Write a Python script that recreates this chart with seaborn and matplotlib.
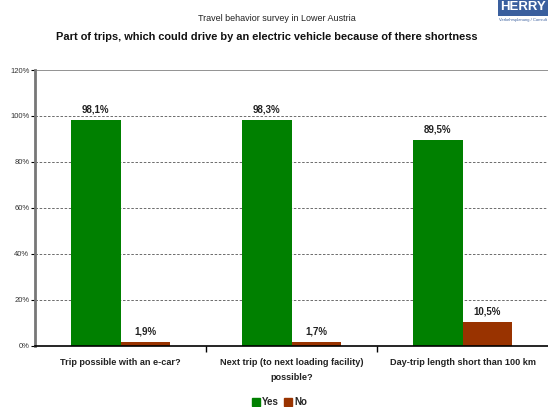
import matplotlib
matplotlib.use("Agg")
import matplotlib.pyplot as plt
import seaborn as sns
import pandas as pd
from matplotlib.ticker import MultipleLocator, PercentFormatter, FixedLocator

categories = [
    "Trip possible with an e-car?",
    "Next trip (to next loading facility)\npossible?",
    "Day-trip length short than 100 km",
]
yes_values = [98.1, 98.3, 89.5]
no_values = [1.9, 1.7, 10.5]
series = ["Yes", "No"]
colors = ["#008000", "#993300"]

df = pd.DataFrame({
    "category": categories * 2,
    "answer": ["Yes"] * 3 + ["No"] * 3,
    "share": yes_values + no_values,
})

sns.set_style("white")
plt.rcParams["font.family"] = ["Liberation Sans", "DejaVu Sans"]

fig = plt.figure(figsize=(5.48, 4.07), dpi=100)
ax = fig.add_axes([0.0639, 0.150, 0.9361, 0.678])

sns.barplot(data=df, x="category", y="share", hue="answer", hue_order=series,
            palette=colors, width=0.58, saturation=1, linewidth=0,
            ax=ax, legend=False)

ax.set_ylim(0, 120)
ax.set_xlim(-0.5, 2.5)
ax.yaxis.set_major_locator(MultipleLocator(20))
ax.yaxis.set_major_formatter(PercentFormatter(decimals=0))
ax.set_xlabel("")
ax.set_ylabel("")

for y in [20, 40, 60, 80, 100]:
    ax.axhline(y, color="#555555", lw=0.6, ls=(0, (3, 2)), zorder=0)
ax.axhline(120, color="#808080", lw=1.2, zorder=0)

for side in ["top", "right"]:
    ax.spines[side].set_visible(False)
ax.spines["left"].set_color("#777777")
ax.spines["left"].set_linewidth(2)
ax.spines["bottom"].set_color("black")
ax.spines["bottom"].set_linewidth(1.2)

ax.tick_params(axis="y", labelsize=5.5, labelcolor="#333333", length=3,
               width=0.8, color="black", direction="out", left=True, pad=1)
ax.xaxis.set_major_locator(FixedLocator([0, 1, 2]))
ax.set_xticklabels(categories, fontsize=6.6, fontweight="bold",
                   color="#222222", linespacing=1.75)
ax.tick_params(axis="x", length=0, pad=9)
ax.xaxis.set_minor_locator(FixedLocator([0.5, 1.5]))
ax.tick_params(axis="x", which="minor", length=4, width=1, color="black",
               direction="out", bottom=True)

for container, vals in zip(ax.containers, [yes_values, no_values]):
    labels = [f"{v:.1f}%".replace(".", ",") for v in vals]
    ax.bar_label(container, labels=labels, padding=4, fontsize=7,
                 fontweight="bold", color="#222222")

handles = [plt.Rectangle((0, 0), 1, 1, color=c) for c in colors]
fig.legend(handles, series, loc="lower center", bbox_to_anchor=(0.51, -0.022),
           ncol=2, frameon=False, handlelength=0.8,
           handleheight=0.8, handletextpad=0.2, columnspacing=0.6,
           prop={"weight": "bold", "size": 7})

fig.text(0.505, 0.955, "Travel behavior survey in Lower Austria",
         ha="center", va="center", fontsize=6.5, color="#222222")
fig.text(0.487, 0.908,
         "Part of trips, which could drive by an electric vehicle because of there shortness",
         ha="center", va="center", fontsize=7.9, fontweight="bold", color="#111111")

# Company logo in the top-right corner
fig.text(0.997, 0.982, "HERRY", ha="right", va="center", fontsize=9.5,
         fontweight="bold", color="white",
         bbox=dict(boxstyle="square,pad=0.2", fc="#3a5f9e", ec="none"))
fig.text(0.998, 0.950, "Verkehrsplanung / Consult", ha="right", va="center",
         fontsize=3, color="#3a5f9e")

fig.savefig("out.png", dpi=100)
